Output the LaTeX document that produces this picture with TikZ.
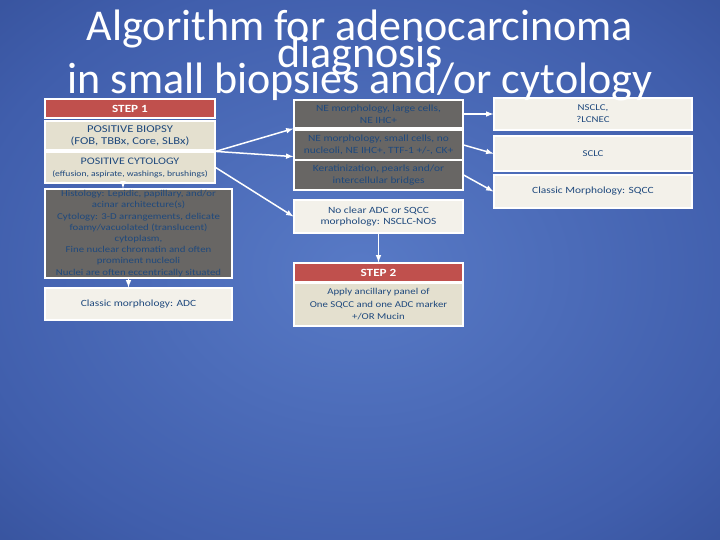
\documentclass[tikz,border=0pt]{standalone}
\usepackage{fontspec}
\setmainfont{Carlito}
\newfontfamily\boxfont[FakeStretch=1.2]{Carlito}
\newcommand\titlefont{\fontsize{44}{26.5}\selectfont\lineskiplimit=-60pt\relax}
\usetikzlibrary{shapes,arrows,positioning,calc}
\definecolor{slidein}{RGB}{88,122,198}
\definecolor{slidemid}{RGB}{64,94,172}
\definecolor{slideout}{RGB}{20,38,98}
\definecolor{stepred}{RGB}{192,80,77}
\definecolor{boxbeige}{RGB}{228,224,207}
\definecolor{boxlight}{RGB}{243,241,234}
\definecolor{boxgray}{RGB}{104,102,100}
\definecolor{textblue}{RGB}{31,73,125}
\pgfdeclareradialshading{slidebg}{\pgfpoint{0bp}{0bp}}{color(0bp)=(slidein); color(28bp)=(slidemid); color(72bp)=(slideout)}
\tikzset{
    box/.style={draw=white, line width=1.2pt, text=textblue, align=center, inner sep=1pt, font=\boxfont\fontsize{9.5}{11.5}\selectfont},
    beigebox/.style={box, fill=boxbeige},
    lightbox/.style={box, fill=boxlight},
    graybox/.style={box, fill=boxgray},
    stepbar/.style={box, fill=stepred, text=white, font=\boxfont\bfseries\fontsize{11}{13}\selectfont},
    arr/.style={-latex, white, line width=1.5pt}
}
\begin{document}
\begin{tikzpicture}[x=1pt, y=-1pt]
    % Slide background
    \useasboundingbox (0,0) rectangle (720,540);
    \shade[shading=slidebg] (0,0) rectangle (720,540);
    % Step 1 column
    \node[stepbar, minimum width=170pt, minimum height=19pt] (step1) at (130,108.5) {STEP 1};
    \node[beigebox, minimum width=170pt, minimum height=29pt, font=\boxfont\fontsize{10.5}{12}\selectfont] (biopsy) at (130,135.5)
        {POSITIVE BIOPSY\\(FOB, TBBx, Core, SLBx)};
    \node[beigebox, minimum width=170pt, minimum height=31pt, font=\boxfont\fontsize{10}{12}\selectfont] (cyto) at (130,167.5)
        {POSITIVE CYTOLOGY\\{\fontsize{8}{9}\selectfont(effusion, aspirate, washings, brushings)}};
    \node[graybox, minimum width=187pt, minimum height=89pt, inner sep=0pt, font=\boxfont\fontsize{9}{11.2}\selectfont] (histo) at (138.5,233.5)
        {Histology: Lepidic, papillary, and/or\\acinar architecture(s)\\Cytology: 3-D arrangements, delicate\\foamy/vacuolated (translucent)\\cytoplasm,\\Fine nuclear chromatin and often\\prominent nucleoli\\Nuclei are often eccentrically situated};
    \node[lightbox, minimum width=187pt, minimum height=32pt] (adc) at (138.5,304) {Classic morphology: ADC};
    % Morphology column
    \node[graybox, minimum width=169pt, minimum height=28pt] (nelarge) at (378.5,114)
        {NE morphology, large cells,\\NE IHC+};
    \node[graybox, minimum width=169pt, minimum height=30pt] (nesmall) at (378.5,145)
        {NE morphology, small cells, no\\nucleoli, NE IHC+, TTF-1 +/-, CK+};
    \node[graybox, minimum width=169pt, minimum height=30pt] (kerat) at (378.5,175)
        {Keratinization, pearls and/or\\intercellular bridges};
    \node[lightbox, minimum width=169pt, minimum height=33pt] (nos) at (378.5,216.5)
        {No clear ADC or SQCC\\morphology: NSCLC-NOS};
    \node[stepbar, minimum width=169pt, minimum height=19pt] (step2) at (378.5,272.5) {STEP 2};
    \node[beigebox, minimum width=169pt, minimum height=43pt, font=\boxfont\fontsize{9}{12.5}\selectfont] (panel) at (378.5,304.5)
        {Apply ancillary panel of\\One SQCC and one ADC marker\\+/OR Mucin};
    % Diagnosis column
    \node[lightbox, minimum width=198pt, minimum height=32pt, font=\boxfont\fontsize{9}{12}\selectfont] (lcnec) at (593,114) {NSCLC,\\?LCNEC};
    \node[lightbox, minimum width=198pt, minimum height=35pt, font=\boxfont\fontsize{9}{12}\selectfont] (sclc) at (593,153.5) {SCLC};
    \node[lightbox, minimum width=198pt, minimum height=33pt] (sqcc) at (593,191.5) {Classic Morphology: SQCC};
    % Title over the boxes
    \node[font=\titlefont, text=white, align=center, anchor=north, inner sep=0pt] (title) at (360,10)
        {Algorithm for adenocarcinoma\\diagnosis\\in small biopsies and/or cytology};
    % Arrows
    \draw[arr] ([xshift=-7pt]cyto.south) -- ([xshift=-7pt]cyto.south |- histo.north);
    \draw[arr] ([xshift=-10pt]histo.south) -- ([xshift=-10pt]histo.south |- adc.north);
    \draw[arr] (cyto.north east) -- (nelarge.south west);
    \draw[arr] (cyto.north east) -- ([yshift=4pt]nesmall.south west);
    \draw[arr] (cyto.east) -- (nos.west);
    \draw[arr] (nos.south) -- (step2.north);
    \draw[arr] (nelarge.east) -- (lcnec.west);
    \draw[arr] (nesmall.east) -- (sclc.west);
    \draw[arr] (kerat.east) -- (sqcc.west);
\end{tikzpicture}
\end{document}
